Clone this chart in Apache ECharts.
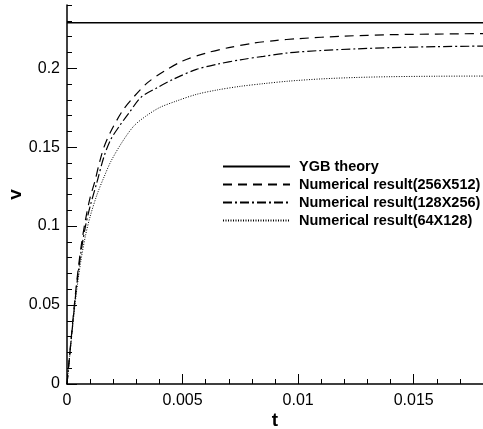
<!DOCTYPE html>
<html>
<head>
<meta charset="utf-8">
<script src="https://cdn.jsdelivr.net/npm/echarts@6/dist/echarts.min.js"></script>
<style>
  html, body { margin: 0; padding: 0; background: #fff; }
  #chart { width: 483px; height: 429px; }
</style>
</head>
<body>
<div id="chart"></div>
<script>
// 数据：从图上读取
const ygbT = [0, 0.018];
const ygbV = [0.2288, 0.2288];

const t256 = [0, 0.0002, 0.0004, 0.0006, 0.0008, 0.001, 0.0012, 0.0014, 0.0016, 0.0019, 0.0024, 0.0029, 0.0035, 0.0042, 0.005, 0.006, 0.007, 0.008, 0.009, 0.01, 0.012, 0.014, 0.016, 0.018];
const v256 = [0, 0.032, 0.062, 0.086, 0.104, 0.118, 0.128, 0.140, 0.150, 0.160, 0.173, 0.182, 0.191, 0.198, 0.2045, 0.2095, 0.2130, 0.2157, 0.2175, 0.2187, 0.2203, 0.2212, 0.2216, 0.2219];

const t128 = [0, 0.0002, 0.0004, 0.0006, 0.0008, 0.001, 0.0013, 0.0016, 0.0019, 0.0023, 0.0027, 0.0032, 0.0039, 0.0046, 0.0056, 0.0065, 0.0075, 0.0085, 0.0096, 0.011, 0.0125, 0.014, 0.016, 0.018];
const v128 = [0, 0.031, 0.060, 0.083, 0.100, 0.1125, 0.128, 0.144, 0.155, 0.164, 0.172, 0.1815, 0.1876, 0.193, 0.1992, 0.2025, 0.2053, 0.2075, 0.2097, 0.2112, 0.2122, 0.2130, 0.2136, 0.2140];

const t64 = [0, 0.0002, 0.0004, 0.0006, 0.0008, 0.001, 0.0013, 0.0016, 0.0019, 0.0024, 0.0029, 0.0034, 0.004, 0.0047, 0.0056, 0.0065, 0.0075, 0.0085, 0.0096, 0.011, 0.0125, 0.014, 0.016, 0.018];
const v64 = [0, 0.030, 0.057, 0.078, 0.094, 0.106, 0.120, 0.131, 0.141, 0.1535, 0.1635, 0.1695, 0.175, 0.179, 0.1834, 0.1862, 0.1885, 0.1902, 0.1918, 0.1932, 0.1941, 0.1946, 0.1949, 0.195];

const xMajorTicks = [0, 0.005, 0.01, 0.015];
const yMajorTicks = [0, 0.05, 0.1, 0.15, 0.2];

const names = ['YGB theory', 'Numerical result(256X512)', 'Numerical result(128X256)', 'Numerical result(64X128)'];

function pairs(xs, ys) {
    return xs.map((x, i) => [x, ys[i]]);
}

const chart = echarts.init(document.getElementById('chart'));

const font = 'Liberation Sans, Arial, Helvetica, sans-serif';

// 主刻度轴（长刻度 + 标签）
function majorAxis(dim, ticks) {
    const isX = dim === 'x';
    return {
        type: 'value',
        position: isX ? 'bottom' : 'left',
        min: 0,
        max: isX ? 0.018 : 0.24,
        name: isX ? 't' : 'v',
        nameLocation: 'middle',
        nameGap: isX ? 27 : 42,
        nameMoveOverlap: false,
        nameTextStyle: { fontFamily: font, fontSize: 19, fontWeight: 'bold', color: '#000' },
        axisLine: { show: true, lineStyle: { color: '#000', width: 1.5 } },
        axisTick: { show: true, inside: true, length: 10, customValues: ticks, lineStyle: { color: '#000', width: 1 } },
        axisLabel: {
            customValues: ticks,
            margin: isX ? 9 : 7,
            fontFamily: font,
            fontSize: 16,
            color: '#000',
            formatter: v => String(v)
        },
        splitLine: { show: false }
    };
}

// 次刻度轴（短刻度，无标签）
function minorAxis(dim) {
    const isX = dim === 'x';
    return {
        type: 'value',
        position: isX ? 'bottom' : 'left',
        min: 0,
        max: isX ? 0.018 : 0.24,
        interval: isX ? 0.001 : 0.01,
        axisLine: { show: false },
        axisTick: { show: true, inside: true, length: 5, lineStyle: { color: '#000', width: 1 } },
        axisLabel: { show: false },
        splitLine: { show: false }
    };
}

const lineStyles = [
    { color: '#000', width: 1.5, type: 'solid' },
    { color: '#000', width: 1.2, type: [9, 6] },
    { color: '#000', width: 1.2, type: [9, 3, 2, 3] },
    { color: '#000', width: 1, type: [1, 1.5] }
];

const dataSets = [pairs(ygbT, ygbV), pairs(t256, v256), pairs(t128, v128), pairs(t64, v64)];

const option = {
    animation: false,
    backgroundColor: '#fff',
    grid: { left: 67, right: 0, top: 5, bottom: 45, containLabel: false, outerBoundsMode: 'none' },
    legend: {
        orient: 'vertical',
        left: 222,
        top: 159,
        padding: 0,
        itemWidth: 67,
        itemHeight: 14,
        itemGap: 3,
        itemStyle: { opacity: 0 },
        textStyle: { fontFamily: font, fontSize: 14.5, fontWeight: 'bold', color: '#000', padding: [0, 0, 0, 4] },
        data: names
    },
    xAxis: [majorAxis('x', xMajorTicks), minorAxis('x')],
    yAxis: [majorAxis('y', yMajorTicks), minorAxis('y')],
    series: names.map((n, i) => ({
        name: n,
        type: 'line',
        xAxisIndex: 0,
        yAxisIndex: 0,
        smooth: i > 0 ? 0.3 : false,
        symbol: 'none',
        lineStyle: lineStyles[i],
        itemStyle: { color: '#000', opacity: 0 },
        data: dataSets[i]
    }))
};

chart.setOption(option);
</script>
</body>
</html>
